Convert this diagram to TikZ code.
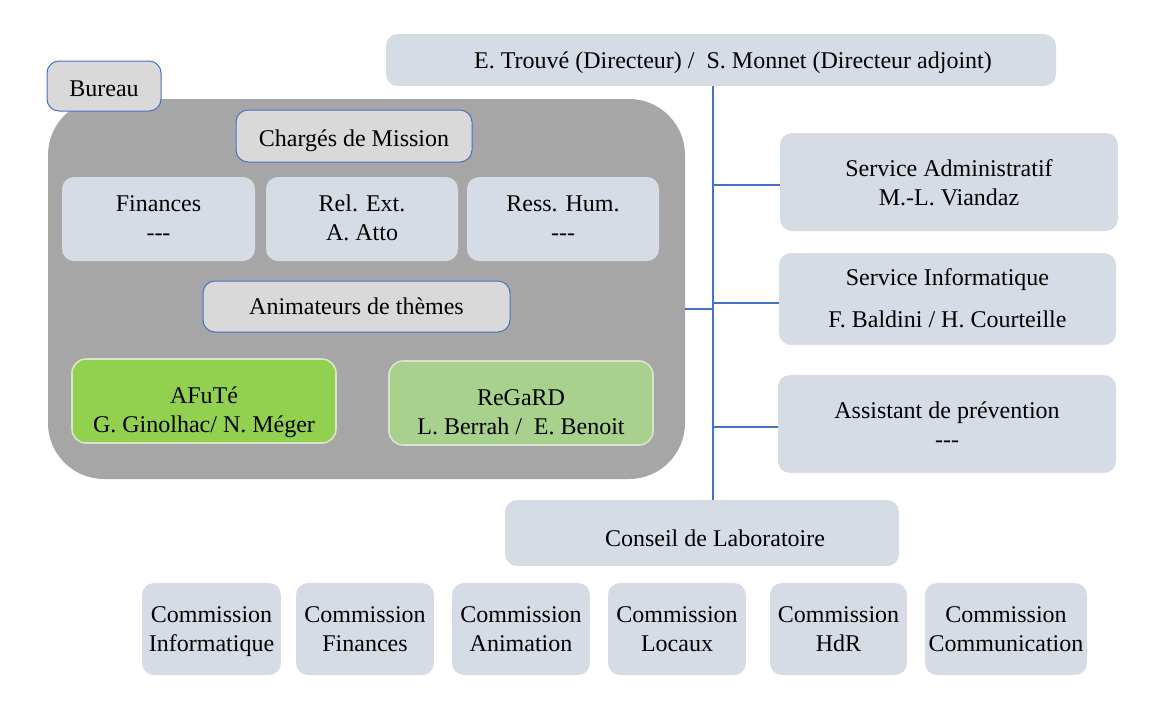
\documentclass[tikz,border=0pt]{standalone}
\usepackage{fontspec}
\setmainfont{Liberation Serif}
\definecolor{bluegrey}{HTML}{D6DCE5}
\definecolor{lightgrey}{HTML}{D9D9D9}
\definecolor{midgrey}{HTML}{A6A6A6}
\definecolor{lineblue}{HTML}{4472C4}
\definecolor{greenA}{HTML}{92D050}
\definecolor{greenB}{HTML}{A9D18E}
\definecolor{greenborder}{HTML}{D8E4CC}
\newcommand{\nodash}{{-}{-}{-}}
\tikzset{
  txt/.style={font=\fontsize{12}{14.5}\selectfont, align=center, inner sep=0pt, text=black},
  oneline/.style={text depth=0pt},
  bgbox/.style={txt, fill=bluegrey, rounded corners=6pt},
  combox/.style={bgbox, minimum height=46pt, text height=27pt},
  greybox/.style={txt, fill=lightgrey, draw=lineblue, line width=0.5pt, rounded corners=6pt},
  greenbox/.style={txt, draw=greenborder, line width=0.8pt, rounded corners=7pt, text height=36pt},
  conn/.style={draw=lineblue, line width=1.3pt},
}
\begin{document}
\begin{tikzpicture}[x=0.5pt,y=-0.5pt]
\useasboundingbox (0,0) rectangle (1156,719);
% big grey bureau area
\node[fill=midgrey, rounded corners=28pt, minimum width=318.5pt, minimum height=190pt, inner sep=0pt] (bureaubg) at (366.5,289) {};
\node[greybox, oneline, text height=10.5pt, minimum width=57pt, minimum height=25pt] (bureau) at (104,86) {Bureau};
\node[greybox, oneline, text height=10.5pt, minimum width=118pt, minimum height=26pt] (charges) at (354,136) {Chargés de Mission};
\node[bgbox, text height=26.3pt, minimum width=96.5pt, minimum height=42pt] (fin) at (158.5,219) {Finances\\\nodash\strut};
\node[bgbox, text height=26.3pt, minimum width=96pt, minimum height=42pt] (relext) at (362,219) {Rel. Ext.\\A. Atto\strut};
\node[bgbox, text height=26.3pt, minimum width=96pt, minimum height=42pt] (resshum) at (563,219) {Ress. Hum.\\\nodash\strut};
\node[greybox, minimum width=153.5pt, minimum height=25.5pt] (anim) at (356.5,306.5) {Animateurs de thèmes};
\node[greenbox, fill=greenA, minimum width=132pt, minimum height=42pt] (afute) at (204,401) {AFuTé\\G. Ginolhac/ N. Méger\strut};
\node[greenbox, fill=greenB, minimum width=132pt, minimum height=42pt] (regard) at (521,403) {ReGaRD\\L. Berrah /\ \ E. Benoit\strut};
% director and services
\node[bgbox, oneline, minimum width=335pt, minimum height=26pt] (dir) at (721,60) {\hspace*{12pt}E. Trouvé (Directeur) /\ \ S. Monnet (Directeur adjoint)};
\node[bgbox, text height=28.3pt, minimum width=169pt, minimum height=49pt] (sadm) at (949,182) {Service Administratif\\M.-L. Viandaz\strut};
\node[bgbox, text height=34.3pt, minimum width=168.5pt, minimum height=46pt, font=\fontsize{12}{21}\selectfont] (sinf) at (947.5,299) {Service Informatique\\F. Baldini / H. Courteille\strut};
\node[bgbox, text height=28.3pt, minimum width=169pt, minimum height=49pt] (sasst) at (947,424) {Assistant de prévention\\\nodash\strut};
\node[bgbox, oneline, text height=13pt, minimum width=197pt, minimum height=33pt] (conseil) at (702,533) {\hspace*{13pt}Conseil de Laboratoire};
% commissions
\node[combox, minimum width=69.5pt] (c1) at (211.5,629) {Commission\\Informatique\strut};
\node[combox, minimum width=69pt] (c2) at (365,629) {Commission\\Finances\strut};
\node[combox, minimum width=69pt] (c3) at (521,629) {Commission\\Animation\strut};
\node[combox, minimum width=69pt] (c4) at (677,629) {Commission\\Locaux\strut};
\node[combox, minimum width=68.5pt] (c5) at (838.5,629) {Commission\\HdR\strut};
\node[combox, minimum width=81pt] (c6) at (1006,629) {Commission\\Communication\strut};
% connectors
\coordinate (spine) at (713,0);
\coordinate (lb) at (685,309);
\draw[conn] (dir.south -| spine) -- (conseil.north -| spine);
\draw[conn] (spine |- 0,185) -- (sadm.west |- 0,185);
\draw[conn] (spine |- 0,303) -- (sinf.west |- 0,303);
\draw[conn] (spine |- 0,427) -- (sasst.west |- 0,427);
\draw[conn] (lb) -- (lb -| spine);
\end{tikzpicture}
\end{document}
